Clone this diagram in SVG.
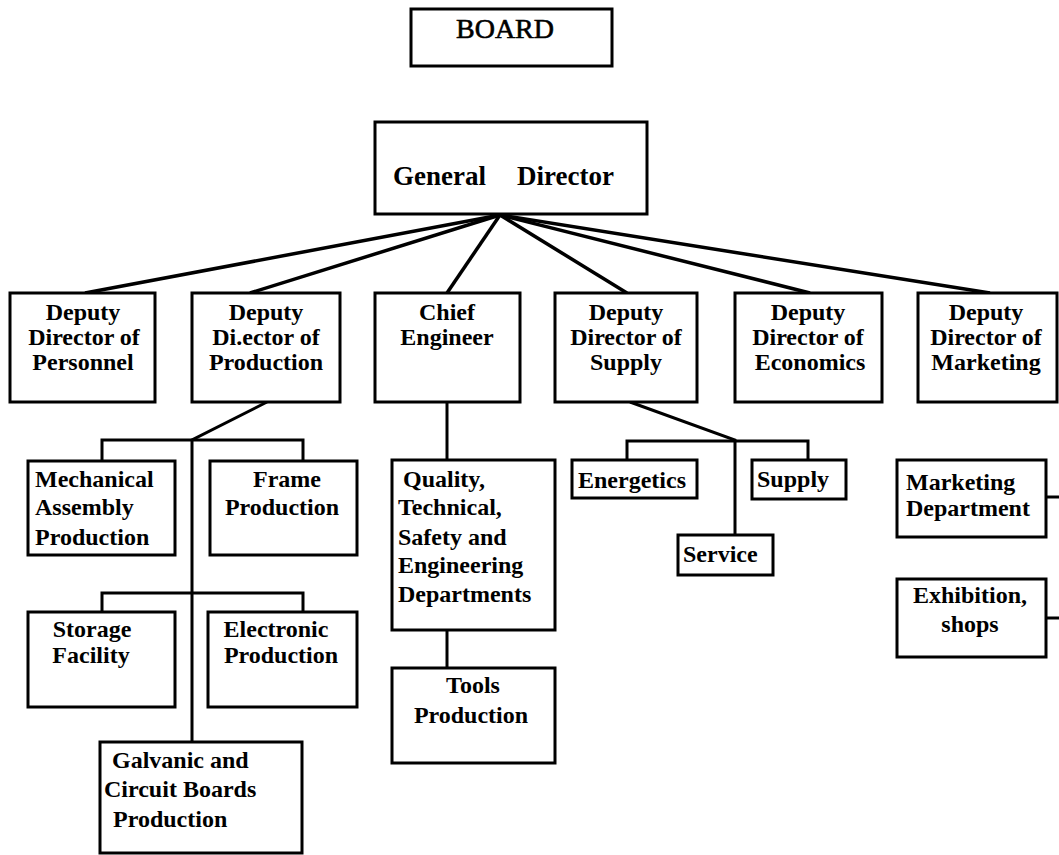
<svg xmlns="http://www.w3.org/2000/svg" width="1059" height="855" viewBox="0 0 1059 855">
  <style>
    .box { fill: #fff; stroke: #000; stroke-width: 3; }
    .wire { fill: none; stroke: #000; stroke-width: 3; stroke-linejoin: miter; }
    .fan { stroke-width: 3.5; }
    text { font-family: "Liberation Serif", "Times New Roman", serif; font-weight: bold; font-size: 24px; fill: #000; }
    .c { text-anchor: middle; }
    .big { font-size: 27px; }
    .title { font-weight: normal; font-size: 28px; stroke: #000; stroke-width: 0.6; }
  </style>
  <rect width="1059" height="855" fill="#fff"/>

  <!-- connectors -->
  <g id="connectors" class="wire">
    <!-- general director fan-out -->
    <g class="fan">
      <line x1="500" y1="215" x2="85" y2="293"/>
      <line x1="500" y1="215" x2="250" y2="293"/>
      <line x1="500" y1="215" x2="447" y2="293"/>
      <line x1="500" y1="215" x2="627" y2="293"/>
      <line x1="500" y1="215" x2="810" y2="293"/>
      <line x1="500" y1="215" x2="990" y2="293"/>
    </g>
    <!-- production branch -->
    <polyline points="267,402 192,440 192,742"/>
    <polyline points="102,461 102,440 303,440 303,461"/>
    <polyline points="102,612 102,593 303,593 303,612"/>
    <!-- chief engineer branch -->
    <line x1="447" y1="402" x2="447" y2="460"/>
    <line x1="447" y1="630" x2="447" y2="668"/>
    <!-- supply branch -->
    <polyline points="630,402 735,440 735,535"/>
    <polyline points="627,460 627,441 808,441 808,460"/>
    <!-- marketing branch -->
    <line x1="1046" y1="497" x2="1059" y2="497"/>
    <line x1="1046" y1="618" x2="1059" y2="618"/>
  </g>

  <g id="board">
    <rect class="box" x="411" y="9" width="201" height="57"/>
    <text class="c title" x="505" y="38">BOARD</text>
  </g>

  <g id="general-director">
    <rect class="box" x="375" y="122" width="272" height="92"/>
    <text class="big" x="393" y="185">General</text>
    <text class="big" x="517" y="185">Director</text>
  </g>

  <g id="deputy-personnel">
    <rect class="box" x="10" y="293" width="145" height="109"/>
    <text class="c" x="83" y="320">Deputy</text>
    <text class="c" x="84" y="345">Director of</text>
    <text class="c" x="83" y="370">Personnel</text>
  </g>

  <g id="deputy-production">
    <rect class="box" x="192" y="293" width="148" height="109"/>
    <text class="c" x="266" y="320">Deputy</text>
    <text class="c" x="266" y="345">Di.ector of</text>
    <text class="c" x="266" y="370">Production</text>
  </g>

  <g id="chief-engineer">
    <rect class="box" x="375" y="293" width="145" height="109"/>
    <text class="c" x="447" y="320">Chief</text>
    <text class="c" x="447" y="345">Engineer</text>
  </g>

  <g id="deputy-supply">
    <rect class="box" x="555" y="293" width="142" height="109"/>
    <text class="c" x="626" y="320">Deputy</text>
    <text class="c" x="626" y="345">Director of</text>
    <text class="c" x="626" y="370">Supply</text>
  </g>

  <g id="deputy-economics">
    <rect class="box" x="735" y="293" width="147" height="109"/>
    <text class="c" x="808" y="320">Deputy</text>
    <text class="c" x="808" y="345">Director of</text>
    <text class="c" x="810" y="370">Economics</text>
  </g>

  <g id="deputy-marketing">
    <rect class="box" x="918" y="293" width="139" height="109"/>
    <text class="c" x="986" y="320">Deputy</text>
    <text class="c" x="986" y="345">Director of</text>
    <text class="c" x="986" y="370">Marketing</text>
  </g>

  <g id="mechanical-assembly">
    <rect class="box" x="28" y="461" width="147" height="94"/>
    <text x="35" y="487">Mechanical</text>
    <text x="35" y="515">Assembly</text>
    <text x="35" y="545">Production</text>
  </g>

  <g id="frame-production">
    <rect class="box" x="210" y="461" width="147" height="94"/>
    <text class="c" x="287" y="487">Frame</text>
    <text class="c" x="282" y="515">Production</text>
  </g>

  <g id="storage-facility">
    <rect class="box" x="28" y="612" width="147" height="95"/>
    <text class="c" x="92" y="637">Storage</text>
    <text class="c" x="91" y="663">Facility</text>
  </g>

  <g id="electronic-production">
    <rect class="box" x="208" y="612" width="149" height="95"/>
    <text class="c" x="276" y="637">Electronic</text>
    <text class="c" x="281" y="663">Production</text>
  </g>

  <g id="galvanic-circuit">
    <rect class="box" x="100" y="742" width="202" height="111"/>
    <text x="112" y="768">Galvanic and</text>
    <text x="104" y="797">Circuit Boards</text>
    <text x="113" y="827">Production</text>
  </g>

  <g id="quality-departments">
    <rect class="box" x="392" y="460" width="163" height="170"/>
    <text x="403" y="487">Quality,</text>
    <text x="398" y="515">Technical,</text>
    <text x="398" y="545">Safety and</text>
    <text x="398" y="573">Engineering</text>
    <text x="398" y="602">Departments</text>
  </g>

  <g id="tools-production">
    <rect class="box" x="392" y="668" width="163" height="95"/>
    <text class="c" x="473" y="693">Tools</text>
    <text class="c" x="471" y="723">Production</text>
  </g>

  <g id="energetics">
    <rect class="box" x="572" y="460" width="125" height="38"/>
    <text x="578" y="488">Energetics</text>
  </g>

  <g id="supply">
    <rect class="box" x="752" y="460" width="94" height="39"/>
    <text x="757" y="487">Supply</text>
  </g>

  <g id="service">
    <rect class="box" x="678" y="535" width="95" height="40"/>
    <text x="683" y="562">Service</text>
  </g>

  <g id="marketing-department">
    <rect class="box" x="897" y="460" width="149" height="77"/>
    <text x="906" y="490">Marketing</text>
    <text x="906" y="516">Department</text>
  </g>

  <g id="exhibition-shops">
    <rect class="box" x="897" y="579" width="149" height="78"/>
    <text class="c" x="970" y="603">Exhibition,</text>
    <text class="c" x="970" y="632">shops</text>
  </g>
</svg>
